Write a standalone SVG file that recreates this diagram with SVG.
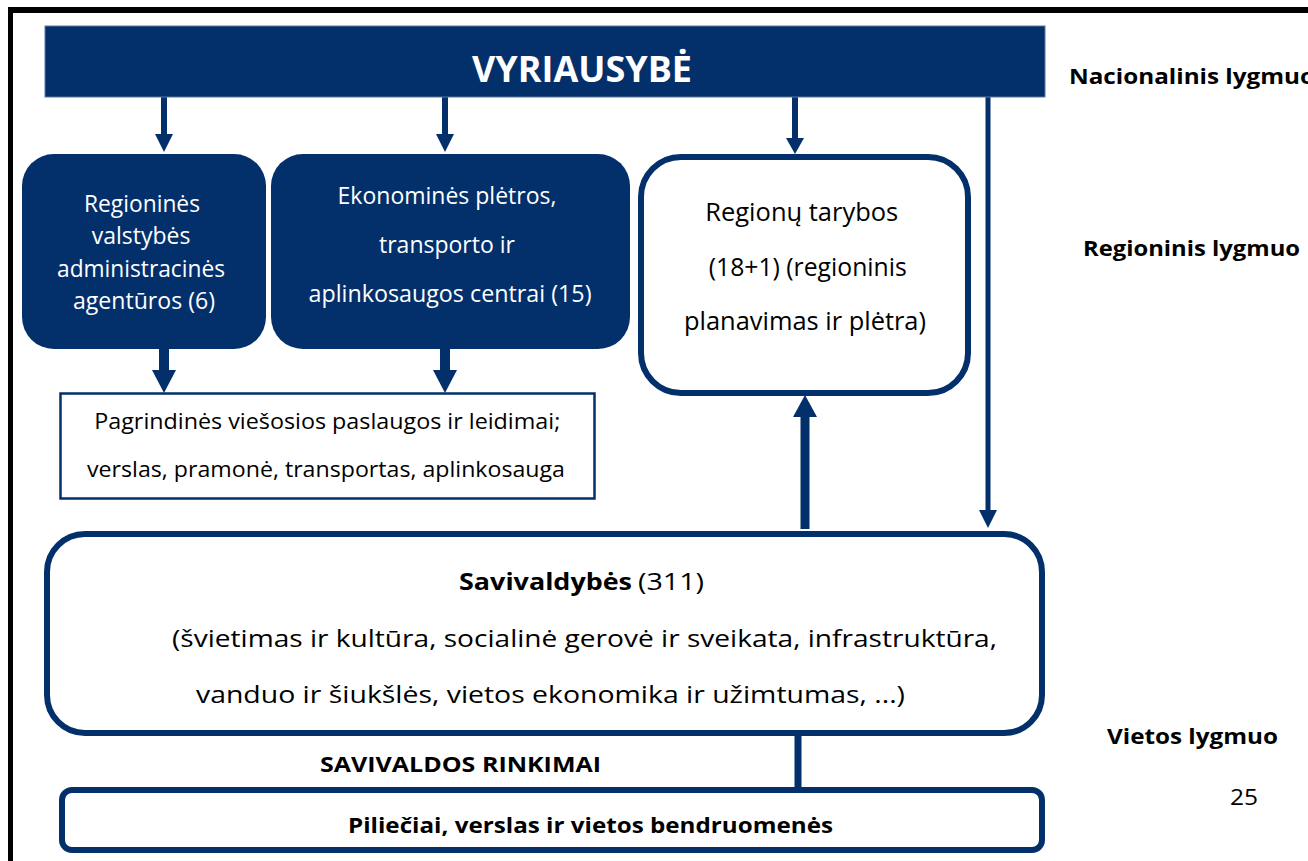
<svg xmlns="http://www.w3.org/2000/svg" width="1308" height="861" viewBox="0 0 1308 861">
<style>
.t{font-family:"Open Sans","Liberation Sans",sans-serif;}
.w{fill:#ffffff;}
.k{fill:#000000;}
.b{font-weight:bold;}
.dark{fill:#03306B;stroke:#5a78a0;stroke-width:1;}
.box{fill:#ffffff;stroke:#03306B;stroke-width:6;}
.shaft{stroke:#03306B;fill:none;}
.head{fill:#03306B;}
</style>
<rect width="1308" height="861" fill="#ffffff"/>
<g id="frame">
<line x1="8" y1="10" x2="1308" y2="10" stroke="#000" stroke-width="6"/>
<line x1="10.5" y1="7" x2="10.5" y2="861" stroke="#000" stroke-width="5"/>
</g>
<g id="connectors">
<line class="shaft" x1="164" y1="96" x2="164" y2="136" stroke-width="6"/>
<polygon class="head" points="155,134 173,134 164,152"/>
<line class="shaft" x1="445" y1="96" x2="445" y2="136" stroke-width="6"/>
<polygon class="head" points="436,134 454,134 445,152"/>
<line class="shaft" x1="795" y1="96" x2="795" y2="140" stroke-width="6"/>
<polygon class="head" points="786,138 804,138 795,154"/>
<line class="shaft" x1="988" y1="96" x2="988" y2="512" stroke-width="5"/>
<polygon class="head" points="979,510 997,510 988,528"/>
<line class="shaft" x1="164" y1="346" x2="164" y2="372" stroke-width="10"/>
<polygon class="head" points="152,370 176,370 164,393"/>
<line class="shaft" x1="445" y1="346" x2="445" y2="372" stroke-width="10"/>
<polygon class="head" points="433,370 457,370 445,393"/>
<line class="shaft" x1="805" y1="529" x2="805" y2="415" stroke-width="9"/>
<polygon class="head" points="793,417 817,417 805,395"/>
<line class="shaft" x1="798" y1="733" x2="798" y2="790" stroke-width="7"/>
</g>
<g id="vyriausybe">
<rect class="dark" x="45" y="26" width="1000" height="71"/>
<text class="t w b" x="582" y="82" font-size="36" text-anchor="middle" textLength="220" lengthAdjust="spacingAndGlyphs">VYRIAUSYBĖ</text>
</g>
<g id="agenturos">
<rect x="22" y="154" width="244" height="195" rx="32" fill="#03306B"/>
<text class="t w" font-size="23" text-anchor="middle">
<tspan x="145" y="212" textLength="116" lengthAdjust="spacingAndGlyphs">Regioninės</tspan>
<tspan x="144" y="244">valstybės</tspan>
<tspan x="144" y="277" textLength="168" lengthAdjust="spacingAndGlyphs">administracinės</tspan>
<tspan x="144" y="309" textLength="142" lengthAdjust="spacingAndGlyphs">agentūros (6)</tspan>
</text>
</g>
<g id="centrai">
<rect x="271" y="154" width="359" height="195" rx="32" fill="#03306B"/>
<text class="t w" font-size="23" text-anchor="middle">
<tspan x="450" y="204">Ekonominės plėtros,</tspan>
<tspan x="450" y="253">transporto ir</tspan>
<tspan x="450" y="302" textLength="283" lengthAdjust="spacingAndGlyphs">aplinkosaugos centrai (15)</tspan>
</text>
</g>
<g id="tarybos">
<rect class="box" x="641" y="157" width="327" height="236" rx="40"/>
<text class="t k" font-size="25" text-anchor="middle">
<tspan x="805" y="221" textLength="193" lengthAdjust="spacingAndGlyphs">Regionų tarybos</tspan>
<tspan x="811" y="276" textLength="198" lengthAdjust="spacingAndGlyphs">(18+1) (regioninis</tspan>
<tspan x="805" y="330" textLength="242" lengthAdjust="spacingAndGlyphs">planavimas ir plėtra)</tspan>
</text>
</g>
<g id="paslaugos">
<rect x="60.5" y="393.5" width="534" height="105" fill="#ffffff" stroke="#03306B" stroke-width="2.5"/>
<text class="t k" font-size="21" text-anchor="middle">
<tspan x="330" y="429" textLength="466" lengthAdjust="spacingAndGlyphs">Pagrindinės viešosios paslaugos ir leidimai;</tspan>
<tspan x="326" y="477" textLength="478" lengthAdjust="spacingAndGlyphs">verslas, pramonė, transportas, aplinkosauga</tspan>
</text>
</g>
<g id="savivaldybes">
<rect class="box" x="47" y="534" width="995" height="199" rx="38"/>
<text class="t k b" x="459" y="590" font-size="24" textLength="173" lengthAdjust="spacingAndGlyphs">Savivaldybės</text>
<text class="t k" x="638" y="590" font-size="24" textLength="66" lengthAdjust="spacingAndGlyphs">(311)</text>
<text class="t k" x="172" y="647" font-size="24.5" textLength="825" lengthAdjust="spacingAndGlyphs">(švietimas ir kultūra, socialinė gerovė ir sveikata, infrastruktūra,</text>
<text class="t k" x="196" y="703" font-size="24.5" textLength="709" lengthAdjust="spacingAndGlyphs">vanduo ir šiukšlės, vietos ekonomika ir užimtumas, ...)</text>
</g>
<g id="rinkimai">
<text class="t k b" x="320" y="772" font-size="21" textLength="281" lengthAdjust="spacingAndGlyphs">SAVIVALDOS RINKIMAI</text>
</g>
<g id="piliečiai">
<rect class="box" x="62" y="790" width="980" height="60" rx="10"/>
<text class="t k b" x="348" y="833" font-size="21" textLength="485" lengthAdjust="spacingAndGlyphs">Piliečiai, verslas ir vietos bendruomenės</text>
</g>
<g id="levels">
<text class="t k b" x="1069" y="84" font-size="21.5" textLength="246" lengthAdjust="spacingAndGlyphs">Nacionalinis lygmuo</text>
<text class="t k b" x="1083" y="256" font-size="21.5" textLength="217" lengthAdjust="spacingAndGlyphs">Regioninis lygmuo</text>
<text class="t k b" x="1107" y="744" font-size="21.5" textLength="171" lengthAdjust="spacingAndGlyphs">Vietos lygmuo</text>
<text class="t k" x="1230" y="805" font-size="21" textLength="28" lengthAdjust="spacingAndGlyphs">25</text>
</g>
</svg>
